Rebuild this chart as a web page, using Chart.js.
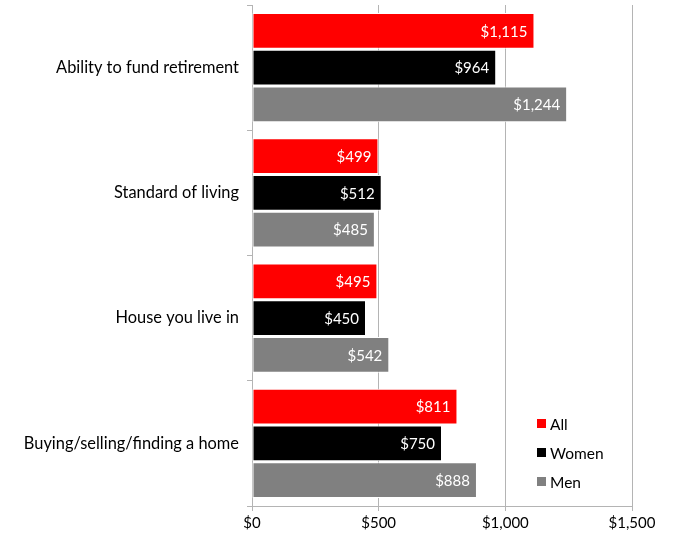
<!DOCTYPE html>
<html>
<head>
<meta charset="utf-8">
<script src="https://cdn.jsdelivr.net/npm/chart.js@4/dist/chart.umd.min.js"></script>
<style>
  html, body { margin: 0; padding: 0; background: #fff; }
  #wrap { width: 674px; height: 538px; position: relative; }
</style>
</head>
<body>
<div id="wrap"><canvas id="chart"></canvas></div>
<script>
(function () {
  'use strict';

  var categories = ['Ability to fund retirement', 'Standard of living', 'House you live in', 'Buying/selling/finding a home'];
  var allValues = [1115, 499, 495, 811];
  var womenValues = [964, 512, 450, 750];
  var menValues = [1244, 485, 542, 888];
  var seriesNames = ['All', 'Women', 'Men'];
  var seriesColors = ['#ff0000', '#000000', '#808080'];
  var xTicks = [0, 500, 1000, 1500];

  var FONT = 'Lato, "Open Sans", sans-serif';
  var GRID = '#b4b4b4';

  function money(v) {
    return '$' + Number(v).toLocaleString('en-US');
  }

  // white value text just inside the end of each bar
  var barLabels = {
    id: 'barLabels',
    afterDatasetsDraw: function (chart) {
      var ctx = chart.ctx;
      ctx.save();
      ctx.font = '15px ' + FONT;
      ctx.fillStyle = '#ffffff';
      ctx.textAlign = 'right';
      ctx.textBaseline = 'middle';
      chart.data.datasets.forEach(function (ds, i) {
        chart.getDatasetMeta(i).data.forEach(function (bar, j) {
          ctx.fillText(money(ds.data[j]), bar.x - 7, bar.y + 1);
        });
      });
      ctx.restore();
    }
  };

  // small legend inside the lower right of the plot
  var boxLegend = {
    id: 'boxLegend',
    afterDraw: function (chart) {
      var ctx = chart.ctx;
      var left = 537, top = 423.5, step = 29;
      ctx.save();
      ctx.font = '15.5px ' + FONT;
      ctx.textBaseline = 'middle';
      ctx.textAlign = 'left';
      chart.data.datasets.forEach(function (ds, i) {
        var y = top + i * step;
        ctx.fillStyle = ds.backgroundColor;
        ctx.fillRect(left, y - 4.5, 9, 9);
        ctx.fillStyle = '#000000';
        ctx.fillText(ds.label, left + 13, y + 1);
      });
      ctx.restore();
    }
  };

  var valueSets = [allValues, womenValues, menValues];
  var datasets = seriesNames.map(function (name, i) {
    return {
      label: name,
      data: valueSets[i],
      backgroundColor: seriesColors[i],
      borderColor: '#ffffff',
      borderWidth: 1,
      borderSkipped: false,
      categoryPercentage: 0.88,
      barPercentage: 0.97
    };
  });

  new Chart(document.getElementById('chart'), {
    type: 'bar',
    data: { labels: categories, datasets: datasets },
    options: {
      indexAxis: 'y',
      responsive: true,
      maintainAspectRatio: false,
      animation: false,
      layout: { padding: { left: 0, right: 42, top: 5, bottom: 0 } },
      plugins: {
        legend: { display: false },
        tooltip: { enabled: false }
      },
      scales: {
        x: {
          min: 0,
          max: 1500,
          afterBuildTicks: function (scale) {
            scale.ticks = xTicks.map(function (v) { return { value: v }; });
          },
          afterFit: function (scale) { scale.height = 32; },
          ticks: {
            color: '#000',
            font: { family: FONT, size: 15 },
            padding: 3,
            maxRotation: 0,
            callback: function (v) { return money(v); }
          },
          grid: { color: GRID, tickLength: 5, lineWidth: 1 },
          border: { color: GRID }
        },
        y: {
          // fixed label column; labels sit mid-category so no extra room is needed above/below
          afterFit: function (scale) {
            scale.width = 252;
            scale.paddingTop = 0;
            scale.paddingBottom = 0;
          },
          ticks: {
            color: '#000',
            font: { family: FONT, size: 16.4 },
            padding: 8
          },
          grid: { offset: true, drawOnChartArea: false, color: GRID, tickLength: 5 },
          border: { color: GRID }
        }
      }
    },
    plugins: [barLabels, boxLegend]
  });
})();
</script>
</body>
</html>
